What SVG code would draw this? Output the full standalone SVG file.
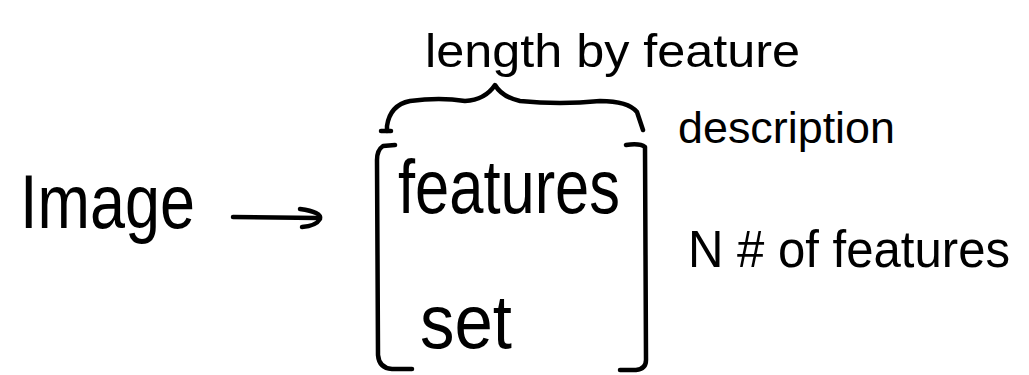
<svg xmlns="http://www.w3.org/2000/svg" width="1029" height="375" viewBox="0 0 1029 375">
  <style>
    .t { font-family: "Liberation Sans", Arial, sans-serif; fill: #000; }
    .ln { fill: none; stroke: #000; stroke-width: 4.5; stroke-linecap: round; stroke-linejoin: round; }
  </style>
  <rect width="1029" height="375" fill="#fff"/>
  <g id="image-node">
    <text class="t" x="20" y="228" font-size="76" textLength="175" lengthAdjust="spacingAndGlyphs">Image</text>
  </g>
  <g id="feature-set-node">
    <path class="ln" d="M395,145 L383,146 Q377,150 377,160 L378,355 Q379,368 392,369 L412,369"/>
    <path class="ln" d="M626,145 Q640,143 645,147 L646,360 Q646,369 636,370 L620,370"/>
    <text class="t" x="398" y="213" font-size="76" textLength="222" lengthAdjust="spacingAndGlyphs">features</text>
    <text class="t" x="420" y="348" font-size="76" textLength="92" lengthAdjust="spacingAndGlyphs">set</text>
  </g>
  <g id="length-label">
    <text class="t" x="425" y="67" font-size="46" textLength="375" lengthAdjust="spacingAndGlyphs">length by feature</text>
    <path class="ln" d="M387,131 L387,126 Q390,105 410,101 Q440,97 465,101 Q485,100 495,85 Q502,97 520,101 Q560,105 600,101 Q628,101 637,112 L643,130"/>
    <path class="ln" d="M381,131 L391,131"/>
  </g>
  <g id="description-label">
    <text class="t" x="678" y="143" font-size="44" textLength="217" lengthAdjust="spacingAndGlyphs">description</text>
  </g>
  <g id="count-label">
    <text class="t" x="688" y="267" font-size="52" textLength="322" lengthAdjust="spacingAndGlyphs">N # of features</text>
  </g>
  <g id="connectors">
    <path class="ln" d="M233,217 L318,218"/>
    <path class="ln" d="M300,209 Q322,212 320,219 Q316,226 302,227"/>
  </g>
</svg>
